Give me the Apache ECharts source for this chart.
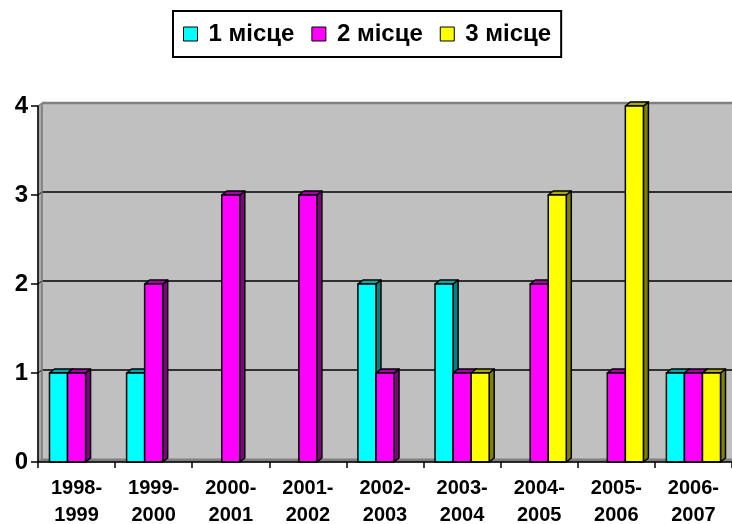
<!DOCTYPE html>
<html>
<head>
<meta charset="utf-8">
<script src="https://cdn.jsdelivr.net/npm/echarts@6/dist/echarts.min.js"></script>
<style>
html,body{margin:0;padding:0;background:#fff;}
#chart{width:732px;height:524px;}
</style>
</head>
<body>
<div id="chart"></div>
<script>
const categories = ['1998-\n1999','1999-\n2000','2000-\n2001','2001-\n2002','2002-\n2003','2003-\n2004','2004-\n2005','2005-\n2006','2006-\n2007'];
const seriesNames = ['1 місце','2 місце','3 місце'];
const place1 = [1,1,0,0,2,2,0,0,1];
const place2 = [1,2,3,3,1,1,2,1,1];
const place3 = [0,0,0,0,0,1,3,4,1];
const yMin = 0, yMax = 4, yStep = 1;

const palettes = [
  {front:'#00FFFF', top:'#00A8A8', side:'#008080'},
  {front:'#FF00FF', top:'#A800A8', side:'#800080'},
  {front:'#FFFF00', top:'#A8A800', side:'#808000'}
];
const FONT = '"Liberation Sans", Arial, sans-serif';
const BDX = 5, BDY = 4;   // bar depth
const WDX = 4, WDY = 3;   // wall depth

function barRenderer(si){
  const pal = palettes[si];
  return function(params, api){
    const cat = api.value(0), v = api.value(1);
    if (!v) return null;
    const bw = api.size([1,0])[0];
    const w = bw * 0.234;
    const base = api.coord([cat, 0]);
    const topP = api.coord([cat, v]);
    const x0 = base[0] - 1.5*w + si*w, x1 = x0 + w;
    const yb = base[1], yt = topP[1];
    const st = {stroke:'#000', lineWidth:1.5, lineJoin:'round'};
    return {type:'group', children:[
      {type:'polygon', shape:{points:[[x1,yb],[x1+BDX,yb-BDY],[x1+BDX,yt-BDY],[x1,yt]]}, style:Object.assign({fill:pal.side}, st)},
      {type:'polygon', shape:{points:[[x0,yt],[x0+BDX,yt-BDY],[x1+BDX,yt-BDY],[x1,yt]]}, style:Object.assign({fill:pal.top}, st)},
      {type:'rect', shape:{x:x0, y:yt, width:w, height:yb-yt}, style:Object.assign({fill:pal.front}, st)}
    ]};
  };
}

function wallRenderer(params, api){
  const cs = params.coordSys;
  const x = cs.x, y = cs.y, w = cs.width, h = cs.height;
  const children = [];
  children.push({type:'rect', shape:{x:x+WDX, y:y-WDY, width:w-WDX, height:h}, style:{fill:'#C0C0C0', stroke:null}});
  children.push({type:'polygon', shape:{points:[[x,y+h],[x,y],[x+WDX,y-WDY],[x+WDX,y+h-WDY]]}, style:{fill:'#A8A8A8', stroke:'#808080', lineWidth:1}});
  children.push({type:'polygon', shape:{points:[[x,y+h],[x+w,y+h],[x+w+WDX,y+h-WDY],[x+WDX,y+h-WDY]]}, style:{fill:'#808080', stroke:'#808080', lineWidth:1}});
  for (let v = yMin + yStep; v <= yMax; v += yStep){
    const yy = api.coord([0, v])[1];
    const isTop = v === yMax;
    children.push({type:'line', shape:{x1:x+WDX, y1:yy-WDY, x2:x+w, y2:yy-WDY}, style:{stroke:isTop?'#808080':'#000', lineWidth:isTop?2.5:1.5}});
    children.push({type:'line', shape:{x1:x, y1:yy, x2:x+WDX, y2:yy-WDY}, style:{stroke:isTop?'#808080':'#000', lineWidth:1}});
  }
  children.push({type:'line', shape:{x1:x+WDX, y1:y-WDY, x2:x+WDX, y2:y+h-WDY}, style:{stroke:'#808080', lineWidth:1.5}});
  return {type:'group', children};
}

const allValues = [place1, place2, place3];
const series = [{
  type:'custom', name:'walls', renderItem:wallRenderer, data:[[0,0]], z:1, silent:true,
  encode:{x:0, y:1}
}];
allValues.forEach((arr, si) => {
  series.push({
    type:'custom', name:seriesNames[si], renderItem:barRenderer(si), z:2,
    itemStyle:{color:palettes[si].front},
    encode:{x:0, y:1},
    data: arr.map((v,i)=>[i,v])
  });
});

const chart = echarts.init(document.getElementById('chart'), null, {renderer:'canvas'});
chart.setOption({
  animation:false,
  backgroundColor:'#fff',
  legend:{
    left:173, top:11,
    padding:[11,10,11,10],
    borderColor:'#000', borderWidth:2,
    itemWidth:14, itemHeight:14, itemGap:17,
    icon:'rect',
    data: seriesNames.map((n,si)=>({name:n, itemStyle:{color:palettes[si].front, borderColor:'#000', borderWidth:1}})),
    textStyle:{fontFamily:FONT, fontWeight:'bold', fontSize:24, color:'#000', padding:[0,0,0,6]}
  },
  grid:{left:38, right:0, top:106, bottom:62, containLabel:false, outerBoundsMode:'none'},
  xAxis:{
    type:'category', data:categories, boundaryGap:true, z:10,
    axisLine:{show:true, lineStyle:{color:'#000', width:1.5}},
    axisTick:{show:true, alignWithLabel:false, interval:0, length:6, lineStyle:{color:'#000', width:1.5}},
    axisLabel:{interval:0, margin:13, fontFamily:FONT, fontWeight:'bold', fontSize:20, lineHeight:27, color:'#000'},
    splitLine:{show:false}
  },
  yAxis:{
    type:'value', min:yMin, max:yMax, interval:yStep, z:10,
    axisLine:{show:true, lineStyle:{color:'#000', width:1.5}},
    axisTick:{show:true, length:7, lineStyle:{color:'#000', width:1.5}},
    axisLabel:{margin:10, fontFamily:FONT, fontWeight:'bold', fontSize:24, color:'#000'},
    splitLine:{show:false}
  },
  series
});
</script>
</body>
</html>
